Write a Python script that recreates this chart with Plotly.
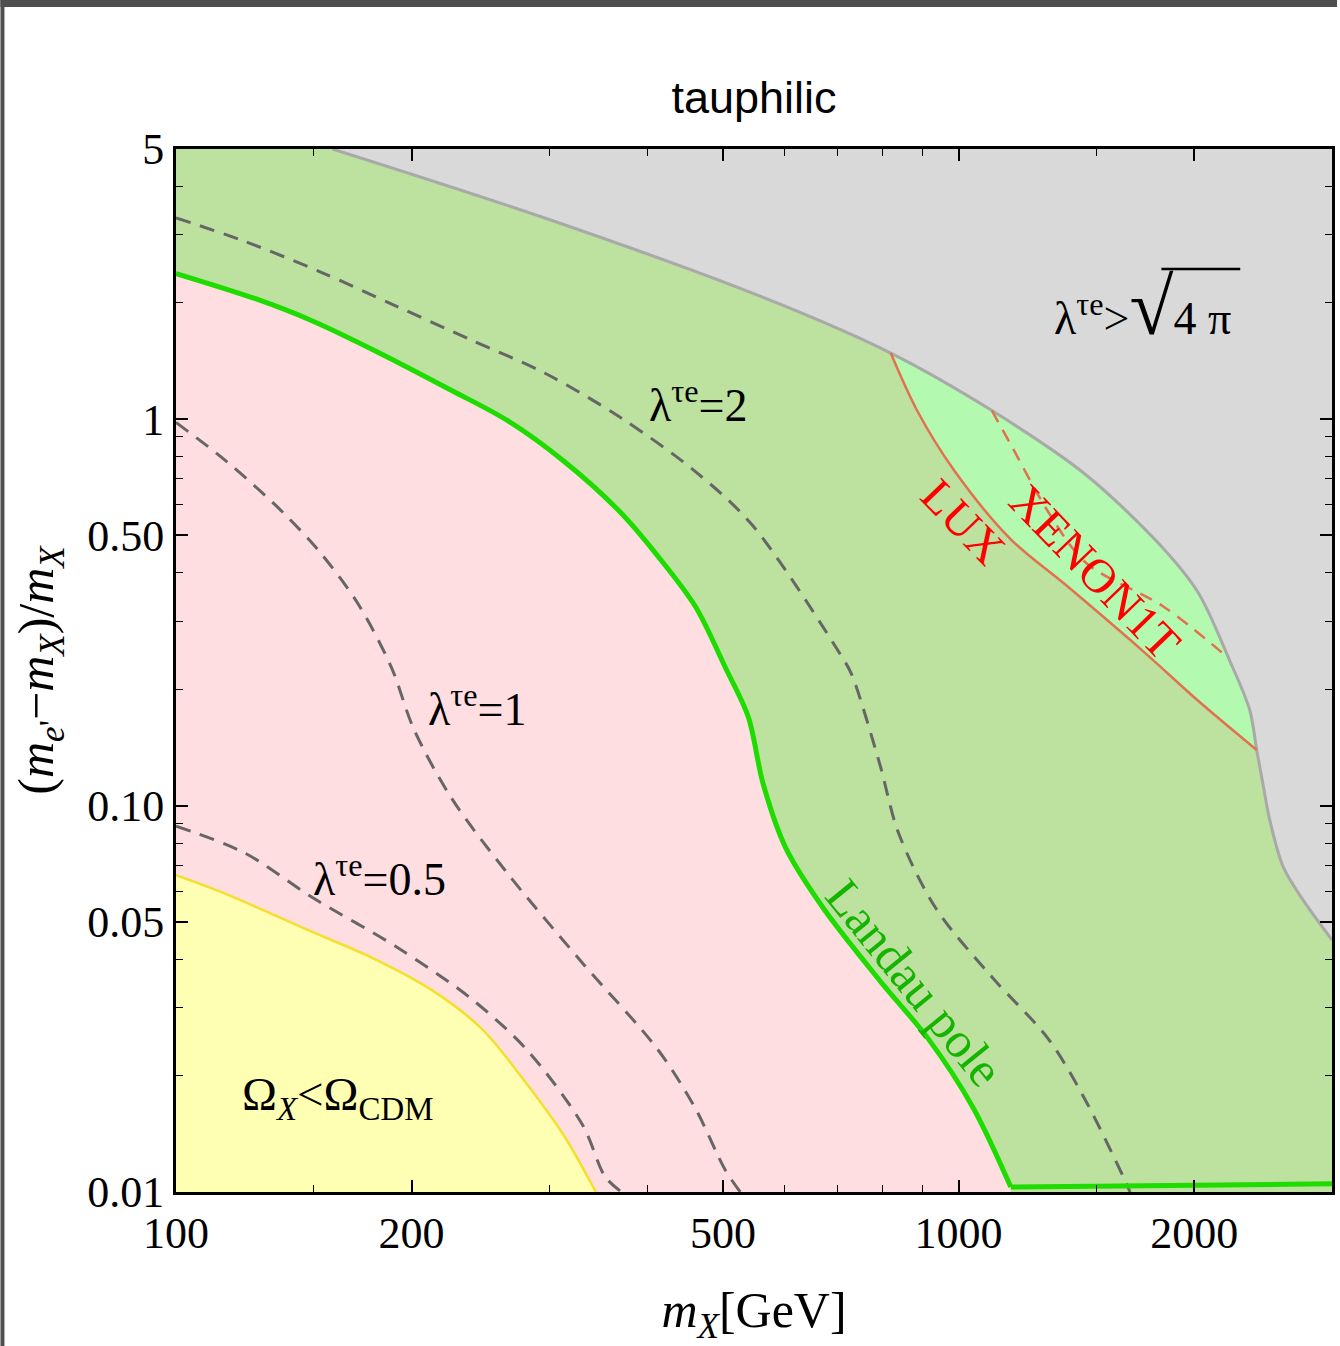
import math
import plotly.graph_objects as go

# ---------------- data ----------------
# upper boundary lambda^{tau e} = sqrt(4 pi)  (gray line)
pert_x = [158.5, 296, 554.6, 819, 1103, 1454, 1813, 2025, 2213, 2355, 2404, 2452, 2498, 2599, 2756, 3000]
pert_y = [5.0, 3.314, 2.089, 1.482, 1.052, 0.718, 0.470, 0.3548, 0.2408, 0.1767, 0.1392, 0.1119, 0.0917, 0.0694, 0.0569, 0.0449]

# Landau pole line (green); the last two points form the flat part along the bottom
landau_x = [100, 126.6, 149.4, 180.3, 224.7, 265.3, 313.1, 369.4, 412.5, 461.0, 503.4, 538.5, 562.7, 601.3, 671.4, 792.5, 914.8, 1044, 1166, 3000]
landau_y = [2.381, 2.046, 1.795, 1.497, 1.188, 0.991, 0.778, 0.575, 0.4428, 0.3273, 0.2277, 0.1697, 0.1137, 0.0777, 0.0543, 0.0353, 0.0249, 0.0165, 0.0103, 0.0105]

# LUX bound (solid)
lux_x = [819, 884.3, 988.3, 1165, 1376, 1726, 2025, 2404]
lux_y = [1.482, 1.056, 0.734, 0.4894, 0.3698, 0.2495, 0.1864, 0.1392]

# XENON1T bound (dashed)
xen_x = [1103, 1165, 1302, 1454, 1828, 2190]
xen_y = [1.052, 0.862, 0.575, 0.425, 0.327, 0.245]

# relic density region boundary (yellow)
relic_x = [100, 115.9, 149.4, 180.3, 212.8, 245.6, 280.4, 313.1, 343.9]
relic_y = [0.066, 0.059, 0.0471, 0.0399, 0.0332, 0.0265, 0.0191, 0.0140, 0.0100]

# contours of constant coupling
lam05_x = [100, 122.4, 149.4, 190.5, 237.6, 280.4, 330.8, 353.4, 371]
lam05_y = [0.0885, 0.0754, 0.0578, 0.0433, 0.0318, 0.0234, 0.0149, 0.01096, 0.0100]

lam1_x = [100, 115.9, 136.8, 152.8, 170.6, 188.4, 201.3, 224.8, 265.3, 330.8, 412.5, 460.6, 503.1, 526]
lam1_y = [0.98, 0.779, 0.575, 0.4519, 0.3342, 0.2282, 0.1578, 0.1047, 0.0667, 0.0391, 0.0234, 0.0165, 0.01142, 0.0100]

lam2_x = [100, 122.4, 152.8, 190.5, 237.6, 296.2, 369.4, 460.6, 544.9, 709.6, 729.5, 792.5, 837.3, 934.8, 1103, 1302, 1454, 1623, 1656]
lam2_y = [3.318, 2.884, 2.406, 1.966, 1.607, 1.314, 1.011, 0.7325, 0.532, 0.2423, 0.2192, 0.1286, 0.0853, 0.0543, 0.036, 0.0249, 0.0172, 0.01096, 0.0100]

x_range = [100, 3000]
y_range = [0.01, 5]

x_major = [100, 200, 500, 1000, 2000]
x_major_text = ["100", "200", "500", "1000", "2000"]
x_minor = [150, 300, 400, 600, 700, 800, 900, 1500]
y_major = [0.01, 0.05, 0.1, 0.5, 1, 5]
y_major_text = ["0.01", "0.05", "0.10", "0.50", "1", "5"]
y_minor = [0.02, 0.03, 0.04, 0.06, 0.07, 0.08, 0.09, 0.2, 0.3, 0.4, 0.6, 0.7, 0.8, 0.9, 2, 3, 4]

# ---------------- styles ----------------
PINK = "#FFDEE1"
GREEN = "#BDE19F"
GRAY = "#D9D9D9"
LGREEN = "#B3F9B0"
YELLOW = "#FFFFB3"
SERIF = "Liberation Serif"
SM = 0.9

fig = go.Figure()


def edge(xs, ys):
    fig.add_trace(go.Scatter(x=xs, y=ys, mode="lines", line=dict(width=0), hoverinfo="skip"))


def filled(xs, ys, color):
    fig.add_trace(go.Scatter(x=xs, y=ys, mode="lines", fill="tonexty", fillcolor=color,
                             line=dict(width=0, shape="spline", smoothing=SM), hoverinfo="skip"))


# split of the Landau line into curved part and flat part along the bottom
k = len(landau_x) - 1
curve_x, curve_y = landau_x[:k], landau_y[:k]
flat_x, flat_y = landau_x[k - 1:], landau_y[k - 1:]

# pink region below the Landau pole line (plot background is green)
edge([x_range[0], curve_x[-1]], [y_range[0], y_range[0]])
filled(curve_x, curve_y, PINK)
# gray non-perturbative region
edge([pert_x[0], x_range[1]], [y_range[1], y_range[1]])
filled(pert_x, pert_y, GRAY)
# light green region between LUX and perturbativity bound
i0 = pert_x.index(lux_x[0])
i1 = pert_x.index(lux_x[-1])
fig.add_trace(go.Scatter(x=pert_x[i0:i1 + 1], y=pert_y[i0:i1 + 1], mode="lines",
                         line=dict(width=0, shape="spline", smoothing=SM), hoverinfo="skip"))
filled(lux_x, lux_y, LGREEN)
# yellow region
edge([x_range[0], relic_x[-1]], [y_range[0], y_range[0]])
filled(relic_x, relic_y, YELLOW)


# lines
def line(xs, ys, color, width, dash=None, shape="spline"):
    fig.add_trace(go.Scatter(x=xs, y=ys, mode="lines", hoverinfo="skip",
                             line=dict(color=color, width=width, dash=dash, shape=shape, smoothing=SM)))


line(relic_x, relic_y, "#F5DF2E", 2.5)
for lx, ly in [(lam05_x, lam05_y), (lam1_x, lam1_y), (lam2_x, lam2_y)]:
    line(lx, ly, "#666666", 3, "15px,10px")
line(pert_x, pert_y, "#A9A9A9", 3)
line(lux_x, lux_y, "#E2714F", 2.5)
line(xen_x, xen_y, "#E2714F", 2.5, "13px,9px")
line(curve_x, curve_y, "#1EDC00", 5)
line(flat_x, flat_y, "#1EDC00", 5, shape="linear")

# ---------------- annotations ----------------
ann_font = dict(family=SERIF, size=46, color="black")
anns = [
    dict(x=465, y=1.107, text="λ<sup>τe</sup>=2", font=ann_font),
    dict(x=242.5, y=0.181, text="λ<sup>τe</sup>=1", font=ann_font),
    dict(x=181.9, y=0.0657, text="λ<sup>τe</sup>=0.5", font=ann_font),
    dict(x=160.9, y=0.0176, text="Ω<sub><i>X</i></sub><Ω<sub>CDM</sub>", font=dict(family=SERIF, size=47, color="black")),
    dict(x=1716, y=1.95, text="λ<sup>τe</sup>><span style='font-size:80px'>√</span>4 π", font=ann_font),
    dict(x=1015, y=0.5416, text="LUX", textangle=46, font=dict(family=SERIF, size=47, color="#FF0000")),
    dict(x=1495, y=0.4044, text="XENON1T", textangle=46, font=dict(family=SERIF, size=48, color="#FF0000")),
    dict(x=879, y=0.0347, text="Landau pole", textangle=51, font=dict(family=SERIF, size=50, color="#14B400")),
]
for a in anns:
    a.update(xref="x", yref="y", showarrow=False, xanchor="center", yanchor="middle")
    a["x"] = math.log10(a["x"])
    a["y"] = math.log10(a["y"])

fig.update_layout(annotations=anns)

# overline of the square root and screenshot frame
fig.update_layout(shapes=[
    dict(type="line", xref="paper", yref="paper", x0=(1164 - 176) / 1159, x1=(1243 - 176) / 1159,
         y0=(1192 - 269) / 1043, y1=(1192 - 269) / 1043, line=dict(color="black", width=2.5)),
    dict(type="rect", xref="paper", yref="paper", x0=-176 / 1159, x1=1164 / 1159,
         y0=(1192 - 7) / 1043, y1=1192 / 1043, fillcolor="#4E4E4E", line=dict(width=0), layer="above"),
    dict(type="rect", xref="paper", yref="paper", x0=-176 / 1159, x1=-172 / 1159,
         y0=-154 / 1043, y1=1192 / 1043, fillcolor="#4E4E4E", line=dict(width=0), layer="above"),
])

axis_common = dict(
    type="log", showgrid=False, zeroline=False, showline=True, linecolor="black", linewidth=3,
    mirror="allticks", ticks="inside", ticklen=12, tickwidth=1.5, tickcolor="black",
    tickfont=dict(family=SERIF, size=44, color="black"),
)

fig.update_xaxes(**axis_common, range=[2, math.log10(3000)],
                 tickmode="array", tickvals=x_major, ticktext=x_major_text,
                 minor=dict(tickvals=x_minor, ticks="inside", ticklen=7, tickwidth=1.2, tickcolor="black"),
                 title=dict(text="<i>m</i><sub><i>X</i></sub>[GeV]", font=dict(family=SERIF, size=50, color="black"),
                            standoff=36))
fig.update_yaxes(**axis_common, range=[-2, math.log10(5)],
                 tickmode="array", tickvals=y_major, ticktext=y_major_text,
                 minor=dict(tickvals=y_minor, ticks="inside", ticklen=7, tickwidth=1.2, tickcolor="black"),
                 title=dict(text="(<i>m</i><sub><i>e</i>'</sub>−<i>m</i><sub><i>X</i></sub>)/<i>m</i><sub><i>X</i></sub>",
                            font=dict(family=SERIF, size=50, color="black"), standoff=18))

fig.update_layout(
    width=1340, height=1346, autosize=False,
    margin=dict(l=176, r=5, t=149, b=154),
    paper_bgcolor="white", plot_bgcolor=GREEN, showlegend=False,
    title=dict(text="tauphilic", x=0.5, xref="paper", y=1 - 97 / 1346, yref="container",
               xanchor="center", yanchor="middle", font=dict(family="Liberation Sans", size=45, color="black")),
)

fig.write_html("out.html")
